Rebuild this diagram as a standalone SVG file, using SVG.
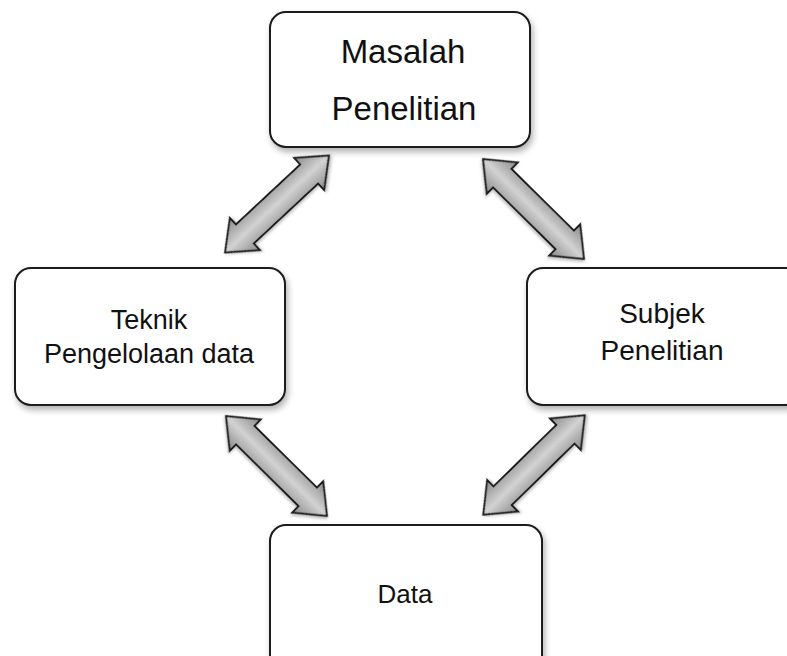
<svg xmlns="http://www.w3.org/2000/svg" xmlns:xlink="http://www.w3.org/1999/xlink" width="787" height="656" viewBox="0 0 787 656">
<style>
.box{fill:#ffffff;stroke:#1a1a1a;stroke-width:2;filter:url(#sh)}
.lbl{font-family:"Liberation Sans",Arial,sans-serif;fill:#111;text-anchor:middle}
.arr{fill:url(#ag);stroke:#1e1e1e;stroke-width:2;stroke-linejoin:miter;filter:url(#ash)}
</style>
<defs>
<filter id="sh" x="-10%" y="-10%" width="130%" height="140%">
<feDropShadow dx="2" dy="4" stdDeviation="3" flood-color="#000" flood-opacity="0.3"/>
</filter>
<filter id="ash" x="-10%" y="-30%" width="130%" height="170%">
<feDropShadow dx="1" dy="2" stdDeviation="1.5" flood-color="#000" flood-opacity="0.25"/>
</filter>
<linearGradient id="ag" x1="0" y1="0" x2="0" y2="1">
<stop offset="0" stop-color="#8a8a8a"/>
<stop offset="0.22" stop-color="#a9a9a9"/>
<stop offset="0.5" stop-color="#d2d2d2"/>
<stop offset="0.78" stop-color="#a9a9a9"/>
<stop offset="1" stop-color="#8a8a8a"/>
</linearGradient>
<path id="dblarrow" d="M-71,0 L-44,-22 L-44,-13 L44,-13 L44,-22 L71,0 L44,22 L44,13 L-44,13 L-44,22 Z"/>
</defs>

<g id="connectors">
<use xlink:href="#dblarrow" class="arr" transform="translate(277,204) rotate(-43)"/>
<use xlink:href="#dblarrow" class="arr" transform="translate(533.5,209) rotate(44.7)"/>
<use xlink:href="#dblarrow" class="arr" transform="translate(276.5,466) rotate(44.7)"/>
<use xlink:href="#dblarrow" class="arr" transform="translate(534,465) rotate(-44.4)"/>
</g>

<g id="masalah">
<rect class="box" x="270" y="12" width="260" height="135" rx="16"/>
<text class="lbl" x="403" y="63" font-size="33">Masalah</text>
<text class="lbl" x="404" y="120" font-size="33">Penelitian</text>
</g>

<g id="teknik">
<rect class="box" x="15" y="268" width="270" height="137" rx="16"/>
<text class="lbl" x="149" y="329" font-size="27">Teknik</text>
<text class="lbl" x="149" y="363" font-size="27">Pengelolaan data</text>
</g>

<g id="subjek">
<rect class="box" x="527" y="268" width="275" height="137" rx="16"/>
<text class="lbl" x="662" y="323" font-size="28">Subjek</text>
<text class="lbl" x="662" y="360" font-size="28">Penelitian</text>
</g>

<g id="data">
<rect class="box" x="270" y="525" width="272" height="150" rx="16"/>
<text class="lbl" x="405" y="603" font-size="26">Data</text>
</g>
</svg>
